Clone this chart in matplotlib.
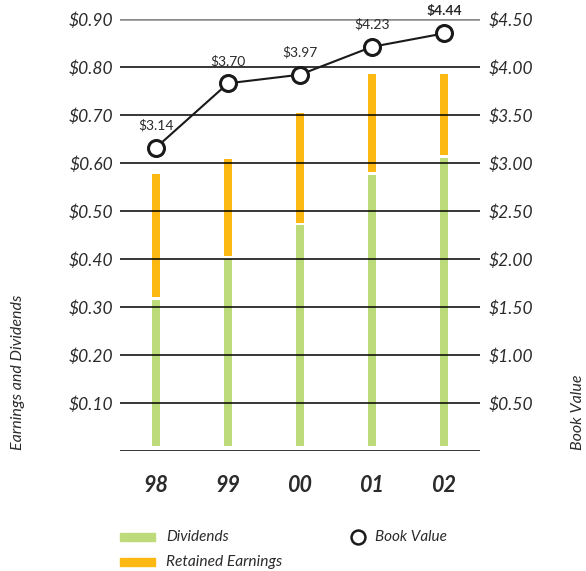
import matplotlib.pyplot as plt
from matplotlib.patches import Rectangle
from matplotlib.lines import Line2D
import numpy as np

years = ['98', '99', '00', '01', '02']
dividends = [0.315, 0.40, 0.47, 0.575, 0.61]
earnings = [0.578, 0.608, 0.705, 0.785, 0.785]
# book value as the line sits on the right scale in the picture
book_value = [3.16, 3.83, 3.92, 4.21, 4.35]
book_labels = ['$3.14', '$3.70', '$3.97', '$4.23', '$4.44']
left_ticks = [0.1, 0.2, 0.3, 0.4, 0.5, 0.6, 0.7, 0.8, 0.9]
right_ticks = [0.5, 1.0, 1.5, 2.0, 2.5, 3.0, 3.5, 4.0, 4.5]

green = '#bddb7a'
orange = '#fdb913'
text_col = '#2b2b2b'
font = 'Lato'

plt.rcParams['font.family'] = [font, 'DejaVu Sans']

W, H = 586, 571
fig = plt.figure(figsize=(W / 100, H / 100), dpi=100)
ax = fig.add_axes([120 / W, 1 - 451 / H, 360 / W, 432 / H])

x = np.arange(len(years))
base = 0.01   # bars float a little above the baseline
gap = 0.006   # white seam between the two segments
width = 0.11

div = np.array(dividends)
tot = np.array(earnings)
ax.bar(x, div - base, bottom=base, width=width, color=green, zorder=2)
ax.bar(x, tot - div - gap, bottom=div + gap, width=width, color=orange, zorder=2)

for t in left_ticks[:-1]:
    ax.axhline(t, color='black', lw=1.1, zorder=3)
ax.axhline(0.9, color='#8a8a8a', lw=1.8, zorder=3)
ax.axhline(0.0, color='black', lw=1.1, zorder=3)

ax.set_xlim(-0.5, 4.5)
ax.set_ylim(0, 0.9)
ax.set_yticks(left_ticks)
ax.set_yticklabels(['$%.2f' % t for t in left_ticks])
ax.set_xticks(x)
ax.set_xticklabels(years)
ax.tick_params(axis='y', length=0, pad=5, labelsize=12.5, labelcolor=text_col)
ax.tick_params(axis='x', length=0, pad=17, labelsize=15.5, labelcolor=text_col)
for lab in ax.get_yticklabels():
    lab.set_style('italic')
for lab in ax.get_xticklabels():
    lab.set_style('italic')
    lab.set_weight('bold')
for s in ax.spines.values():
    s.set_visible(False)

ax2 = ax.twinx()
ax2.set_ylim(0, 4.5)
ax2.set_yticks(right_ticks)
ax2.set_yticklabels(['$%.2f' % t for t in right_ticks])
ax2.tick_params(axis='y', length=0, pad=6, labelsize=12.5, labelcolor=text_col)
for lab in ax2.get_yticklabels():
    lab.set_style('italic')
for s in ax2.spines.values():
    s.set_visible(False)

ax2.plot(x, book_value, color='#1a1a1a', lw=1.5, marker='o', markersize=11.5,
         markerfacecolor='white', markeredgecolor='#1a1a1a', markeredgewidth=2.2,
         zorder=5, clip_on=False)
for i, (v, lbl) in enumerate(zip(book_value, book_labels)):
    ax2.annotate(lbl, (x[i], v), xytext=(0, 16), textcoords='offset points',
                 ha='center', va='center', fontsize=10, color=text_col,
                 fontweight='bold' if i == len(x) - 1 else 'normal')

fig.text(18 / W, 1 - 450 / H, 'Earnings and Dividends', rotation=90,
         rotation_mode='anchor', ha='left', va='center', fontsize=11.5,
         style='italic', color=text_col)
fig.text(578 / W, 1 - 450 / H, 'Book Value', rotation=90,
         rotation_mode='anchor', ha='left', va='center', fontsize=11.5,
         style='italic', color=text_col)

# legend
fig.add_artist(Rectangle((120 / W, 1 - 541 / H), 35 / W, 8 / H,
                         transform=fig.transFigure, color=green))
fig.add_artist(Rectangle((120 / W, 1 - 566 / H), 35 / W, 8 / H,
                         transform=fig.transFigure, color=orange))
fig.text(166 / W, 1 - 537 / H, 'Dividends', ha='left', va='center',
         fontsize=11, style='italic', color=text_col)
fig.text(166 / W, 1 - 562 / H, 'Retained Earnings', ha='left', va='center',
         fontsize=11.2, style='italic', color=text_col)
fig.add_artist(Line2D([358 / W], [1 - 537 / H], transform=fig.transFigure,
                      marker='o', markersize=10, markerfacecolor='white',
                      markeredgecolor='#1a1a1a', markeredgewidth=1.8))
fig.text(375 / W, 1 - 537 / H, 'Book Value', ha='left', va='center',
         fontsize=11, style='italic', color=text_col)

fig.savefig('out.png', dpi=100)
